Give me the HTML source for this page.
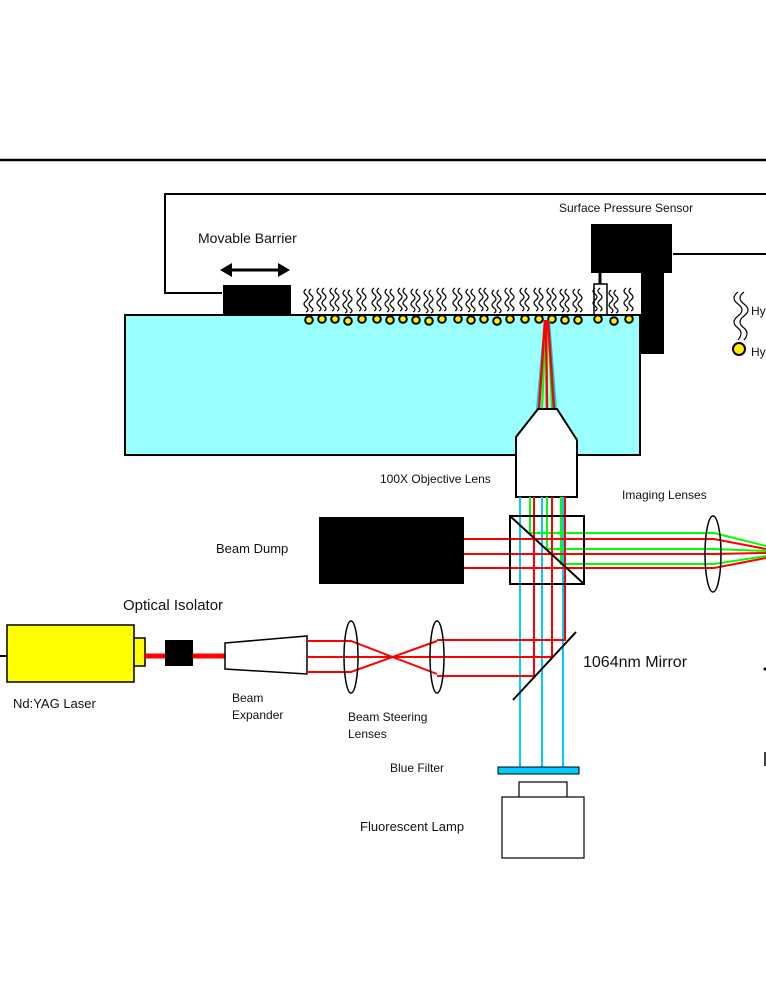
<!DOCTYPE html>
<html><head><meta charset="utf-8"><style>
html,body{margin:0;padding:0;background:#fff;}
svg{display:block;}
text{font-family:"Liberation Sans",sans-serif;fill:#111;}
</style></head><body>
<svg width="766" height="991" viewBox="0 0 766 991" xmlns="http://www.w3.org/2000/svg">
<defs>
<g id="tail" fill="none" stroke="#000" stroke-width="1.2">
<path d="M-3,-26 q-4,3 0,6 q4,3 0,6 q-4,3 0,6 q4,3 0,5"/>
<path d="M2,-26 q-4,3 0,6 q4,3 0,6 q-4,3 0,6 q4,3 0,5"/>
</g>
<g id="mol"><use href="#tail"/><circle cx="0" cy="5" r="3.8" fill="#ffee00" stroke="#000" stroke-width="2"/></g>
</defs>
<line x1="0" y1="160" x2="766" y2="160" stroke="#000" stroke-width="2.5"/>
<polyline points="766,194 165,194 165,293 222,293" fill="none" stroke="#000" stroke-width="2"/>
<text x="198" y="243" font-size="14">Movable Barrier</text>
<line x1="228" y1="270" x2="282" y2="270" stroke="#000" stroke-width="3"/>
<polygon points="220,270 232,263 232,277" fill="#000"/>
<polygon points="290,270 278,263 278,277" fill="#000"/>
<rect x="223" y="285" width="68" height="30" fill="#000"/>
<text x="559" y="212" font-size="12">Surface Pressure Sensor</text>
<rect x="591" y="224" width="81" height="49" fill="#000"/>
<rect x="641" y="272" width="23" height="82" fill="#000"/>
<line x1="673" y1="254" x2="766" y2="254" stroke="#000" stroke-width="2"/>
<line x1="600" y1="272" x2="600" y2="284" stroke="#000" stroke-width="3"/>
<rect x="594" y="284" width="13" height="31" fill="#fff" stroke="#000" stroke-width="1.5"/>
<rect x="125" y="315" width="515" height="140" fill="#99ffff" stroke="#000" stroke-width="2"/>
<g>
<use href="#mol" x="309" y="315"/><use href="#mol" x="322" y="314"/><use href="#mol" x="335" y="314"/><use href="#mol" x="348" y="316"/>
<use href="#mol" x="362" y="314"/><use href="#mol" x="377" y="314"/><use href="#mol" x="390" y="315"/><use href="#mol" x="403" y="314"/>
<use href="#mol" x="416" y="315"/><use href="#mol" x="429" y="316"/><use href="#mol" x="442" y="314"/><use href="#mol" x="458" y="314"/>
<use href="#mol" x="471" y="315"/><use href="#mol" x="484" y="314"/><use href="#mol" x="497" y="316"/><use href="#mol" x="510" y="314"/>
<use href="#mol" x="525" y="314"/><use href="#mol" x="539" y="314"/><use href="#mol" x="552" y="314"/><use href="#mol" x="565" y="315"/>
<use href="#mol" x="578" y="315"/><use href="#mol" x="598" y="314"/><use href="#mol" x="614" y="316"/><use href="#mol" x="629" y="314"/>
</g>
<g fill="none" stroke="#000" stroke-width="1.2">
<path d="M738,292 q-8,6 0,12 q8,6 0,12 q-8,6 0,12 q6,5 0,12"/>
<path d="M744,292 q-8,6 0,12 q8,6 0,12 q-8,6 0,12 q6,5 0,12"/>
</g>
<circle cx="739" cy="349" r="6" fill="#ffee00" stroke="#000" stroke-width="2"/>
<text x="751" y="315" font-size="12">Hy</text>
<text x="751" y="356" font-size="12">Hy</text>
<g stroke-width="2" fill="none">
<line x1="537" y1="409" x2="545" y2="320" stroke="#00ccff"/>
<line x1="556" y1="409" x2="549" y2="320" stroke="#00ccff"/>
<line x1="542" y1="409" x2="546" y2="320" stroke="#00ff00"/>
<line x1="552" y1="409" x2="548" y2="320" stroke="#00ff00"/>
<line x1="539" y1="409" x2="545" y2="320" stroke="#ff0000" stroke-width="2.5"/>
<line x1="547" y1="409" x2="546" y2="320" stroke="#ff0000" stroke-width="2.5"/>
<line x1="554" y1="409" x2="548" y2="320" stroke="#ff0000" stroke-width="2.5"/>
</g>
<polygon points="538,409 557,409 577,440 577,497 516,497 516,437" fill="#fff" stroke="#000" stroke-width="2"/>
<text x="380" y="483" font-size="12">100X Objective Lens</text>
<text x="622" y="499" font-size="12">Imaging Lenses</text>
<text x="216" y="553" font-size="13">Beam Dump</text>
<rect x="319" y="517" width="145" height="67" fill="#000"/>
<g stroke-width="2" fill="none">
<line x1="520" y1="497" x2="520" y2="767" stroke="#00ccff"/>
<line x1="542" y1="497" x2="542" y2="767" stroke="#00ccff"/>
<line x1="563" y1="497" x2="563" y2="767" stroke="#00ccff"/>
<polyline points="530,497 530,533 766,533" stroke="#00ff00"/>
<polyline points="547,497 547,549 766,549" stroke="#00ff00"/>
<polyline points="561,497 561,564 766,564" stroke="#00ff00"/>
<polyline points="534,497 534,676 437,676" stroke="#ff0000"/>
<polyline points="552,497 552,657 437,657" stroke="#ff0000"/>
<polyline points="565,497 565,640 437,640" stroke="#ff0000"/>
<line x1="464" y1="539" x2="766" y2="539" stroke="#ff0000"/>
<line x1="464" y1="554" x2="766" y2="554" stroke="#ff0000"/>
<line x1="464" y1="568" x2="766" y2="568" stroke="#ff0000"/>
</g>
<rect x="714" y="528" width="52" height="45" fill="#fff"/>
<g stroke-width="2" fill="none">
<line x1="714" y1="533" x2="766" y2="546" stroke="#00ff00"/>
<line x1="714" y1="539" x2="766" y2="549" stroke="#ff0000"/>
<line x1="714" y1="549" x2="766" y2="551" stroke="#00ff00"/>
<line x1="714" y1="554" x2="766" y2="553" stroke="#ff0000"/>
<line x1="714" y1="564" x2="766" y2="556" stroke="#00ff00"/>
<line x1="714" y1="568" x2="766" y2="558" stroke="#ff0000"/>
</g>
<ellipse cx="713" cy="554" rx="8" ry="38" fill="none" stroke="#000" stroke-width="1.5"/>
<rect x="510" y="516" width="74" height="68" fill="none" stroke="#000" stroke-width="2"/>
<line x1="510" y1="516" x2="584" y2="584" stroke="#000" stroke-width="2"/>
<line x1="0" y1="656" x2="7" y2="656" stroke="#000" stroke-width="2"/>
<rect x="7" y="625" width="127" height="57" fill="#ffff00" stroke="#000" stroke-width="1.5"/>
<rect x="134" y="638" width="11" height="28" fill="#ffff00" stroke="#000" stroke-width="1.5"/>
<line x1="145" y1="656" x2="225" y2="656" stroke="#ff0000" stroke-width="5"/>
<rect x="165" y="640" width="28" height="26" fill="#000"/>
<polygon points="225,643 307,636 307,674 225,669" fill="#fff" stroke="#000" stroke-width="1.5"/>
<g stroke="#ff0000" stroke-width="2" fill="none">
<polyline points="307,641 351,641 437,674"/>
<polyline points="307,657 437,657"/>
<polyline points="307,672 351,672 437,641"/>
</g>
<ellipse cx="351" cy="657" rx="7" ry="36" fill="none" stroke="#000" stroke-width="1.5"/>
<ellipse cx="437" cy="657" rx="7" ry="36" fill="none" stroke="#000" stroke-width="1.5"/>
<line x1="513" y1="700" x2="576" y2="632" stroke="#000" stroke-width="2"/>
<text x="123" y="610" font-size="15">Optical Isolator</text>
<text x="13" y="708" font-size="13">Nd:YAG Laser</text>
<text x="232" y="702" font-size="12">Beam</text>
<text x="232" y="719" font-size="12">Expander</text>
<text x="348" y="721" font-size="12">Beam Steering</text>
<text x="348" y="738" font-size="12">Lenses</text>
<text x="583" y="667" font-size="16">1064nm Mirror</text>
<text x="390" y="772" font-size="12">Blue  Filter</text>
<rect x="498" y="767" width="81" height="7" fill="#00ccff" stroke="#000" stroke-width="1"/>
<rect x="519" y="782" width="48" height="16" fill="#fff" stroke="#000" stroke-width="1.2"/>
<rect x="502" y="797" width="82" height="61" fill="#fff" stroke="#000" stroke-width="1.2"/>
<text x="360" y="831" font-size="13">Fluorescent Lamp</text>
<circle cx="765" cy="669" r="1.5" fill="#000"/>
<line x1="765" y1="752" x2="765" y2="766" stroke="#000" stroke-width="1.5"/>
</svg>
</body></html>
